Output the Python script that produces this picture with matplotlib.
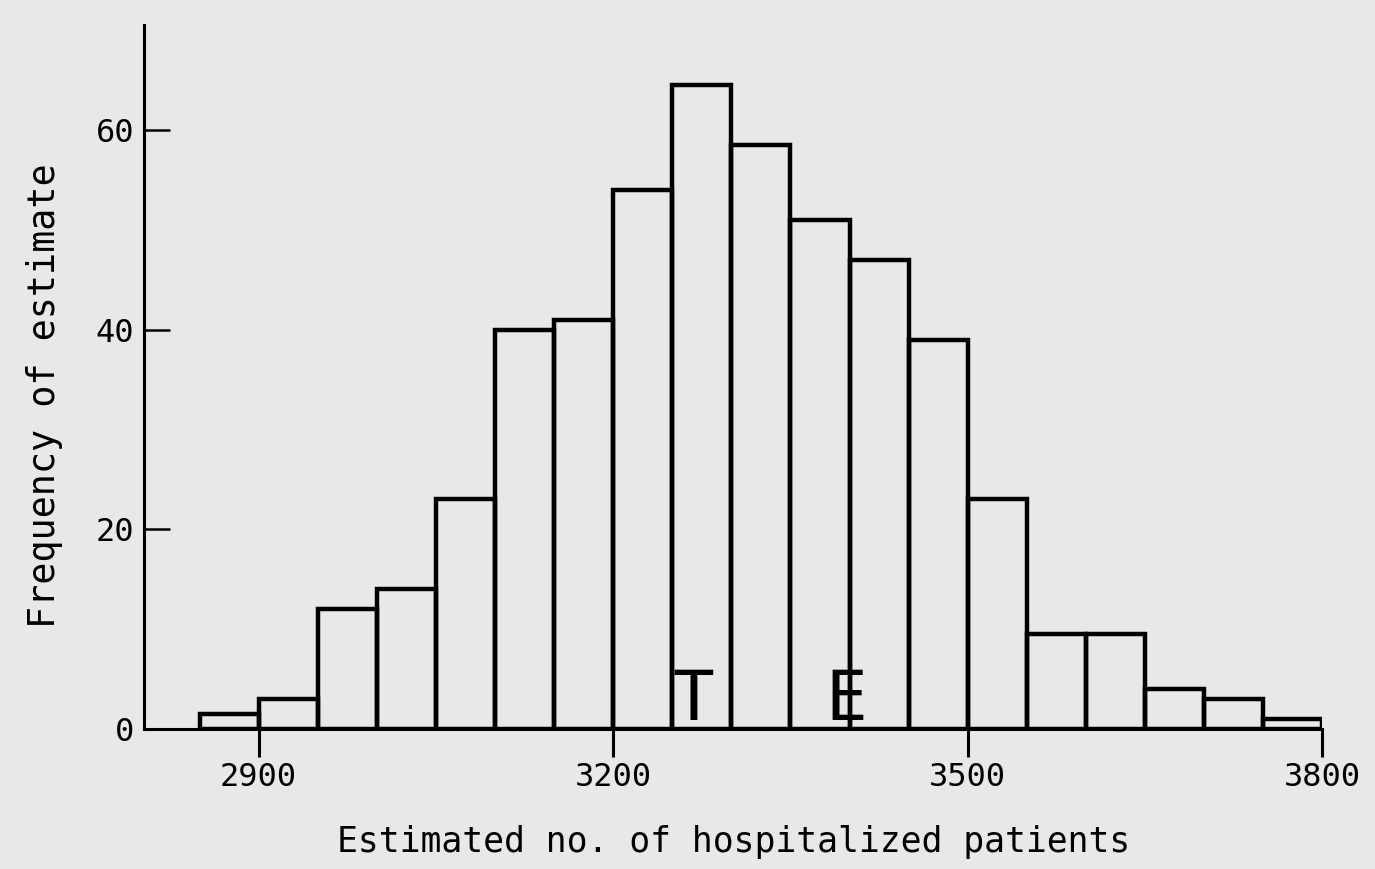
import matplotlib
matplotlib.use("Agg")
import matplotlib.pyplot as plt
import numpy as np

bin_left = [2850, 2900, 2950, 3000, 3050, 3100, 3150, 3200, 3250, 3300,
            3350, 3400, 3450, 3500, 3550, 3600, 3650, 3700, 3750]
freq = [1.5, 3, 12, 14, 23, 40, 41, 54, 64.5, 58.5,
        51, 47, 39, 23, 9.5, 9.5, 4, 3, 1]
bin_width = 50
xticks = [2900, 3200, 3500, 3800]
yticks = [0, 20, 40, 60]
markers = [("T", 3268), ("E", 3397)]

bg = "#e8e8e8"
fig = plt.figure(figsize=(13.75, 8.69), dpi=100, facecolor=bg)
ax = fig.add_axes([0.1047, 0.161, 0.857, 0.810], facecolor=bg)

ax.bar(bin_left, freq, width=bin_width, align="edge", facecolor="none",
       edgecolor="black", linewidth=3.2, zorder=3)

for lab, xv in markers:
    ax.text(xv, -0.5, lab, ha="center", va="bottom", fontsize=50,
            family="DejaVu Sans Mono", color="black", zorder=4)

ax.set_xlim(2803, 3800)
ax.set_ylim(0, 70.5)
for s in ["top", "right"]:
    ax.spines[s].set_visible(False)
ax.spines["left"].set_linewidth(2.2)
ax.spines["bottom"].set_linewidth(2.2)

ax.set_xticks(xticks)
ax.set_yticks(yticks)
ax.tick_params(axis="x", direction="out", length=20, width=2.2, labelsize=23, pad=4)
ax.tick_params(axis="y", direction="in", length=19, width=1.8, labelsize=23, pad=7)
for t in ax.get_xticklabels() + ax.get_yticklabels():
    t.set_family("DejaVu Sans Mono")

ax.set_xlabel("Estimated no. of hospitalized patients", fontsize=25,
              family="DejaVu Sans Mono", labelpad=23)
ax.set_ylabel("Frequency of estimate", fontsize=26.5, family="DejaVu Sans Mono")
ax.yaxis.set_label_coords(-0.069, 0.474)

fig.savefig("out.png", dpi=100, facecolor=bg)
